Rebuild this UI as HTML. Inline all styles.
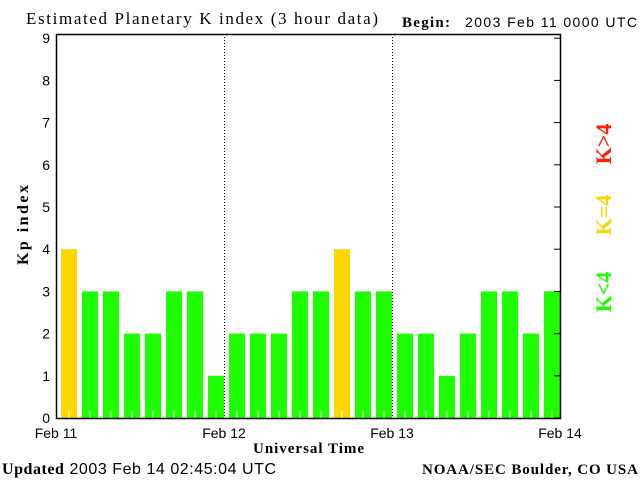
<!DOCTYPE html>
<html><head><meta charset="utf-8"><style>
body{margin:0;background:#fff;width:640px;height:480px;overflow:hidden}
svg text{font-family:"Liberation Sans",sans-serif}
.serif{font-family:"Liberation Serif",serif;font-weight:bold}
</style></head><body>
<svg id="chart" width="640" height="480" viewBox="0 0 640 480" xmlns="http://www.w3.org/2000/svg">
<text class="serif" x="26" y="24" font-size="17" style="font-weight:normal" textLength="352" lengthAdjust="spacing">Estimated Planetary K index (3 hour data)</text>
<text class="serif" x="402" y="27" font-size="15" textLength="48">Begin:</text>
<text x="465" y="27" font-size="14" textLength="172">2003 Feb 11 0000 UTC</text>
<text class="serif" font-size="16" transform="translate(28,225) rotate(-90)" text-anchor="middle" textLength="80">Kp index</text>
<text class="serif" x="253" y="453" font-size="15" textLength="111">Universal Time</text>
<text x="2" y="474" font-size="16" textLength="274"><tspan class="serif">Updated</tspan> 2003 Feb 14 02:45:04 UTC</text>
<text class="serif" x="422" y="474" font-size="15" textLength="216">NOAA/SEC Boulder, CO USA</text>
<g id="plot"></g>
<text class="serif" font-size="22" fill="#ff2000" transform="translate(611,144) rotate(-90)" text-anchor="middle">K&gt;4</text>
<text class="serif" font-size="22" fill="#ffd700" transform="translate(611,215) rotate(-90)" text-anchor="middle">K=4</text>
<text class="serif" font-size="22" fill="#1eff00" transform="translate(611,292) rotate(-90)" text-anchor="middle">K&lt;4</text>
</svg>
<script>
const kpValues=[4,3,3,2,2,3,3,1, 2,2,2,3,3,4,3,3, 2,2,1,2,3,3,2,3];
const dayLabels=["Feb 11","Feb 12","Feb 13","Feb 14"];
const yTicks=[0,1,2,3,4,5,6,7,8,9];
const NS="http://www.w3.org/2000/svg";
const L=56,R=560,B=418,T=34;
const yScale=v=>B-v*42.2;
const slot=(R-L)/kpValues.length;
const xScale=i=>L+i*slot;
const g=document.getElementById('plot');
function mk(t,a){const e=document.createElementNS(NS,t);for(const k in a)e.setAttribute(k,a[k]);g.appendChild(e);return e;}
kpValues.forEach((v,i)=>{
  const c=v>4?"#ff2000":(v==4?"#ffd700":"#1eff00");
  const r=mk('rect',{x:xScale(i)+5,y:yScale(v),width:16,height:B-yScale(v),fill:c});
  
  
  const t=mk('line',{x1:xScale(i)+13,x2:xScale(i)+13,y1:B,y2:B-7,stroke:"#fff","stroke-width":1});
  
  
});
dayLabels.forEach((d,i)=>{
  const x=L+i*(R-L)/3;
  if(i>0&&i<3){const dl=mk('line',{x1:x+0.5,x2:x+0.5,y1:T,y2:B,stroke:"#000","stroke-dasharray":"1,2"});
  
  }
  const tx=mk('text',{x:x,y:438,"font-size":14,"text-anchor":"middle"});
  tx.textContent=d;
  
  
});
yTicks.forEach(v=>{
  const y=yScale(v);
  const tx=mk('text',{x:50,y:y+5,"font-size":14,"text-anchor":"end"});
  tx.textContent=v;
  
  
  const tk=mk('line',{x1:R-6,x2:R,y1:y,y2:y,stroke:"#000"});
  
  
});
const fr=mk('rect',{x:L+0.5,y:T+0.5,width:R-L,height:B-T,fill:"none",stroke:"#000","stroke-width":1.5});


</script>
</body></html>
